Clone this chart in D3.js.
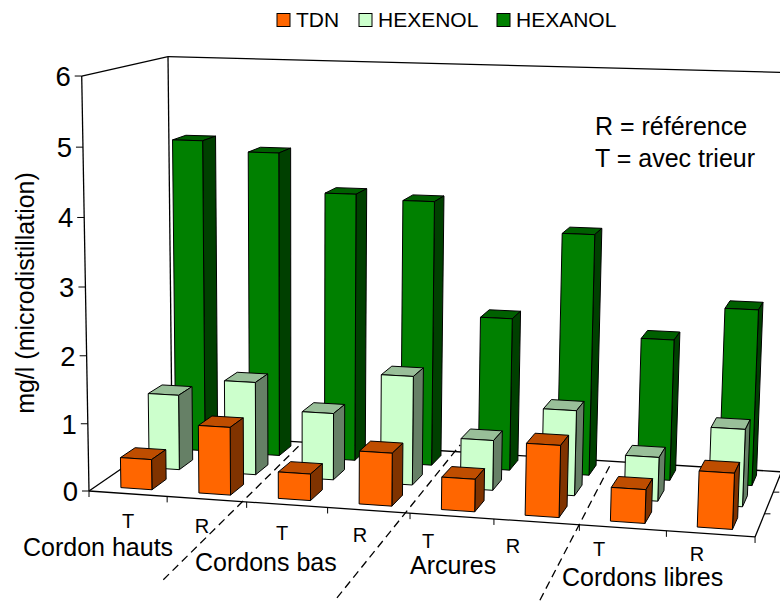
<!DOCTYPE html>
<html>
<head>
<meta charset="utf-8">
<script src="https://cdn.jsdelivr.net/npm/d3@7"></script>
<style>
  html, body { margin: 0; padding: 0; background: #fff; overflow: hidden; }
  text { font-family: "Liberation Sans", Arial, sans-serif; fill: #000; }
</style>
</head>
<body>
<div id="dataviz"></div>
<script>
const categories = ["T", "R", "T", "R", "T", "R", "T", "R"];
const groups = ["Cordon hauts", "Cordons bas", "Arcures", "Cordons libres"];
const seriesNames = ["TDN", "HEXENOL", "HEXANOL"];
const tdn = [0.45, 1.0, 0.39, 0.77, 0.47, 1.03, 0.48, 0.79];
const hexenol = [1.14, 1.4, 1.0, 1.62, 0.74, 1.25, 0.64, 1.12];
const hexanol = [4.8, 4.65, 4.07, 4.0, 2.3, 3.6, 2.1, 2.6];
const valueTicks = [0, 1, 2, 3, 4, 5, 6];

const W = 780, H = 601;

// front, side, top colours per series
const colors = [
  { front: "#ff6600", side: "#803300", top: "#bf4d00" },
  { front: "#ccffcc", side: "#668066", top: "#99bf99" },
  { front: "#008000", side: "#004000", top: "#006000" }
];

var svg = d3.select("#dataviz")
  .append("svg")
    .attr("width", W)
    .attr("height", H)
    .style("display", "block");

// world scales, all to 0..1 on the box
var uScale = d3.scaleLinear().domain([0, categories.length]).range([0, 1]);
var wScale = d3.scaleLinear().domain([0, 6]).range([0, 1]);

// perspective camera, fitted on the corners of the box in the picture
const cam = {
  x: [613.5, 99.5, -10, 89],
  y: [8.6, -15.4, -417.5, 491],
  d: [-0.0696, 0.0958, -0.0332, 1]
};
const project = (cat, depth, val) => {
  var u = uScale(cat), w = wScale(val);
  var d = cam.d[0] * u + cam.d[1] * depth + cam.d[2] * w + cam.d[3];
  return [
    (cam.x[0] * u + cam.x[1] * depth + cam.x[2] * w + cam.x[3]) / d,
    (cam.y[0] * u + cam.y[1] * depth + cam.y[2] * w + cam.y[3]) / d
  ];
};

var line = d3.line();
const n = categories.length;

const edge = (a, b) => svg.append("path")
  .attr("d", line([project(...a), project(...b)]))
  .attr("fill", "none")
  .attr("stroke", "#000")
  .attr("stroke-width", 1.3);

// walls and floor, the back wall top sits a little under the axis top in the original
edge([0, 0, 0], [n, 0, 0]);
edge([0, 0, 0], [0, 1, 0]);
edge([0, 1, 0], [n, 1, 0]);
edge([n, 0, 0], [n, 1, 0]);
edge([0, 0, 0], [0, 0, 6]);
edge([0, 1, 0], [0, 1, 5.97]);
edge([0, 0, 6], [0, 1, 5.97]);
edge([0, 1, 5.97], [n, 1, 5.92]);

// value axis
valueTicks.forEach(function(t) {
  var p = project(0, 0, t);
  svg.append("path")
    .attr("d", line([p, [p[0] - 7, p[1]]]))
    .attr("stroke", "#000")
    .attr("stroke-width", 1);
  svg.append("text")
    .attr("x", p[0] - 11)
    .attr("y", p[1] + 10)
    .attr("text-anchor", "end")
    .style("font-size", "27.5px")
    .text(t);
});

// category ticks
d3.range(n + 1).forEach(function(i) {
  var p = project(i, 0, 0);
  svg.append("path")
    .attr("d", line([p, [p[0], p[1] + 6]]))
    .attr("stroke", "#000")
    .attr("stroke-width", 1);
});

// series ticks on the right floor edge
[1 / 3, 2 / 3].forEach(function(v) {
  var p = project(n, v, 0);
  svg.append("path")
    .attr("d", line([p, [p[0] + 6, p[1]]]))
    .attr("stroke", "#000")
    .attr("stroke-width", 1);
});

// bars, back row first
const rows = [tdn, hexenol, hexanol];
const rowDepth = d3.scaleBand().domain([0, 1, 2]).range([0, 1]);
const barW = 0.4, barD = 0.17, barShift = 0.018;

const face = (pts, fill) => svg.append("path")
  .attr("d", line(pts) + "Z")
  .attr("fill", fill)
  .attr("stroke", "#000")
  .attr("stroke-width", 1)
  .attr("stroke-linejoin", "round");

[2, 1, 0].forEach(function(r) {
  var v0 = rowDepth(r) + (rowDepth.bandwidth() - barD) / 2;
  var v1 = v0 + barD;
  rows[r].forEach(function(val, i) {
    var u0 = i + 0.5 + barShift - barW / 2, u1 = i + 0.5 + barShift + barW / 2;
    face([project(u0, v0, val), project(u1, v0, val), project(u1, v1, val), project(u0, v1, val)], colors[r].top);
    face([project(u1, v0, 0), project(u1, v1, 0), project(u1, v1, val), project(u1, v0, val)], colors[r].side);
    face([project(u0, v0, 0), project(u1, v0, 0), project(u1, v0, val), project(u0, v0, val)], colors[r].front);
  });
});

// dashed separators between the groups, drawn on the floor plane
const separators = [
  { cat: [2.10, 1.81], depth: [-1.07, 0.97] },
  { cat: [4.06, 3.83], depth: [-1.12, 1.12] },
  { cat: [6.11, 5.89], depth: [-0.97, 0.92] }
];
separators.forEach(function(s) {
  svg.append("path")
    .attr("d", line([project(s.cat[0], s.depth[0], 0), project(s.cat[1], s.depth[1], 0)]))
    .attr("fill", "none")
    .attr("stroke", "#000")
    .attr("stroke-width", 1.3)
    .attr("stroke-dasharray", "8 5");
});

// labels
const catLabelPos = [[128, 528], [202, 533], [282, 540], [360, 542], [428, 548], [513, 553], [599, 556], [697, 561]];
categories.forEach(function(c, i) {
  svg.append("text")
    .attr("x", catLabelPos[i][0])
    .attr("y", catLabelPos[i][1])
    .attr("text-anchor", "middle")
    .style("font-size", "20px")
    .text(c);
});

const groupLabelPos = [[23, 556], [195, 571], [410, 574], [562, 586]];
groups.forEach(function(g, i) {
  svg.append("text")
    .attr("x", groupLabelPos[i][0])
    .attr("y", groupLabelPos[i][1])
    .style("font-size", "25px")
    .text(g);
});

svg.append("text")
  .attr("transform", "translate(34,293) rotate(-90)")
  .attr("text-anchor", "middle")
  .style("font-size", "25px")
  .text("mg/l (microdistillation)");

svg.append("text").attr("x", 595).attr("y", 135).style("font-size", "25px").text("R = référence");
svg.append("text").attr("x", 595).attr("y", 167).style("font-size", "25px").text("T = avec trieur");

// legend
const legendX = [277, 359, 497];
seriesNames.forEach(function(name, i) {
  svg.append("rect")
    .attr("x", legendX[i])
    .attr("y", 13.5)
    .attr("width", 13)
    .attr("height", 13)
    .attr("fill", colors[i].front)
    .attr("stroke", "#000");
  svg.append("text")
    .attr("x", legendX[i] + 19)
    .attr("y", 27)
    .style("font-size", "21px")
    .text(name);
});
</script>
</body>
</html>
